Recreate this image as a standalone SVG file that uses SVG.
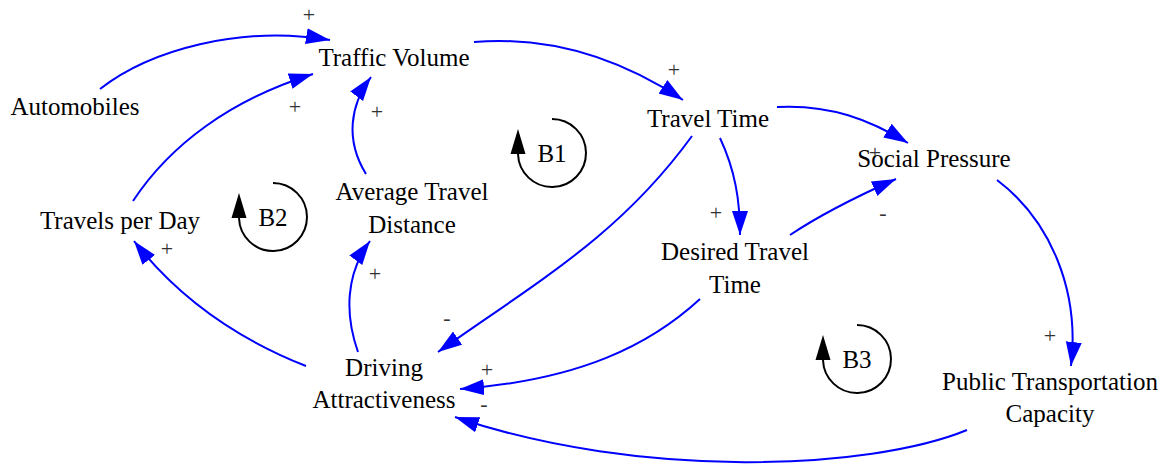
<svg xmlns="http://www.w3.org/2000/svg" width="1168" height="467" viewBox="0 0 1168 467">
<defs>
<style>
.n{font-family:'Liberation Serif',serif !important;font-size:25px;fill:#000;text-anchor:middle}
.s{font-family:'Liberation Serif',serif !important;font-size:22px;fill:#333;text-anchor:middle}
.c{fill:none;stroke:#0000FF;stroke-width:2}
.lp{fill:none;stroke:#000;stroke-width:2}
</style>
<marker id="ah" markerUnits="userSpaceOnUse" markerWidth="26" markerHeight="18" refX="24" refY="8" orient="auto">
<path d="M0,0 L24,8 L0,16 z" fill="#0000FF"/>
</marker>
</defs>
<rect width="1168" height="467" fill="#fff"/>
<g id="connectors">
<path class="c" marker-end="url(#ah)" d="M100,89 C150,50 240,25 330,40"/>
<path class="c" marker-end="url(#ah)" d="M133,201 C170,145 230,100 313,74"/>
<path class="c" marker-end="url(#ah)" d="M366,174 C345,140 350,105 371,77"/>
<path class="c" marker-end="url(#ah)" d="M474,42 C560,35 630,65 683,100"/>
<path class="c" marker-end="url(#ah)" d="M777,107 C830,104 870,120 908,143"/>
<path class="c" marker-end="url(#ah)" d="M720,138 C735,170 740,200 740,235"/>
<path class="c" marker-end="url(#ah)" d="M692,136 C620,235 540,280 438,352"/>
<path class="c" marker-end="url(#ah)" d="M790,235 C820,215 860,195 896,179"/>
<path class="c" marker-end="url(#ah)" d="M700,299 C650,345 580,380 460,389"/>
<path class="c" marker-end="url(#ah)" d="M997,180 C1050,220 1080,290 1071,366"/>
<path class="c" marker-end="url(#ah)" d="M967,430 C870,470 640,480 455,417"/>
<path class="c" marker-end="url(#ah)" d="M306,366 C240,340 180,300 134,241"/>
<path class="c" marker-end="url(#ah)" d="M358,352 C345,315 345,275 370,241"/>
<text class="s" font-family="Liberation Serif" x="309" y="22">+</text>
<text class="s" font-family="Liberation Serif" x="295" y="114">+</text>
<text class="s" font-family="Liberation Serif" x="377" y="119">+</text>
<text class="s" font-family="Liberation Serif" x="674" y="77">+</text>
<text class="s" font-family="Liberation Serif" x="875" y="160">+</text>
<text class="s" font-family="Liberation Serif" x="716" y="220">+</text>
<text class="s" font-family="Liberation Serif" x="447" y="325">-</text>
<text class="s" font-family="Liberation Serif" x="883" y="220">-</text>
<text class="s" font-family="Liberation Serif" x="487" y="377">+</text>
<text class="s" font-family="Liberation Serif" x="1050" y="343">+</text>
<text class="s" font-family="Liberation Serif" x="484" y="411">-</text>
<text class="s" font-family="Liberation Serif" x="167" y="256">+</text>
<text class="s" font-family="Liberation Serif" x="375" y="281">+</text>
</g>
<g id="loop-B1">
<path class="lp" d="M552,119 A34,34 0 1 1 518,154"/>
<path d="M518,129 L525.5,154 L510.5,154 z" fill="#000"/>
<text class="n" font-family="Liberation Serif" x="552" y="162">B1</text>
</g>
<g id="loop-B2">
<path class="lp" d="M273,183 A34,34 0 1 1 239,218"/>
<path d="M239,193 L246.5,218 L231.5,218 z" fill="#000"/>
<text class="n" font-family="Liberation Serif" x="273" y="226">B2</text>
</g>
<g id="loop-B3">
<path class="lp" d="M857,325 A34,34 0 1 1 823,360"/>
<path d="M823,335 L830.5,360 L815.5,360 z" fill="#000"/>
<text class="n" font-family="Liberation Serif" x="857" y="368">B3</text>
</g>
<g id="traffic-volume"><text class="n" font-family="Liberation Serif" x="394" y="66">Traffic Volume</text></g>
<g id="automobiles"><text class="n" font-family="Liberation Serif" x="75" y="115">Automobiles</text></g>
<g id="travel-time"><text class="n" font-family="Liberation Serif" x="708" y="127">Travel Time</text></g>
<g id="social-pressure"><text class="n" font-family="Liberation Serif" x="934" y="167">Social Pressure</text></g>
<g id="average-travel-distance"><text class="n" font-family="Liberation Serif" x="412" y="200">Average Travel</text><text class="n" font-family="Liberation Serif" x="412" y="233">Distance</text></g>
<g id="travels-per-day"><text class="n" font-family="Liberation Serif" x="120" y="229">Travels per Day</text></g>
<g id="desired-travel-time"><text class="n" font-family="Liberation Serif" x="735" y="260">Desired Travel</text><text class="n" font-family="Liberation Serif" x="735" y="293">Time</text></g>
<g id="driving-attractiveness"><text class="n" font-family="Liberation Serif" x="384" y="376">Driving</text><text class="n" font-family="Liberation Serif" x="384" y="408">Attractiveness</text></g>
<g id="public-transportation-capacity"><text class="n" font-family="Liberation Serif" x="1050" y="390">Public Transportation</text><text class="n" font-family="Liberation Serif" x="1050" y="422">Capacity</text></g>
</svg>
